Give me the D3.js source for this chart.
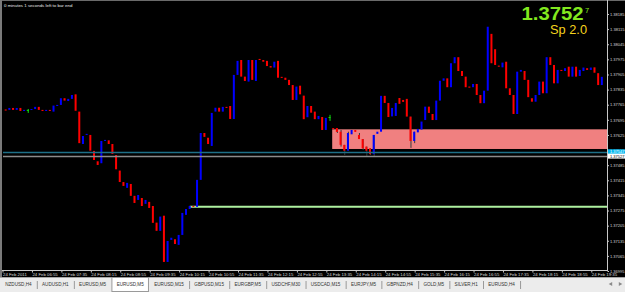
<!DOCTYPE html>
<html>
<head>
<meta charset="utf-8">
<script src="https://cdn.jsdelivr.net/npm/d3@7"></script>
<style>
  html, body { margin: 0; padding: 0; background: #000; }
  svg { display: block; font-family: "Liberation Sans", Arial, sans-serif; }
</style>
</head>
<body>
<svg id="chart" width="625" height="292"></svg>
<script>
// EURUSD M5, 24 Feb 2011
const opens = [
  1.37731,1.37743,1.37741,1.37750,1.37741,1.37750,1.37736,1.37741,1.37741,1.37745,
  1.37755,1.37741,1.37736,1.37741,1.37733,1.37759,1.37764,1.37795,1.37782,1.37792,
  1.37813,1.37733,1.37583,1.37625,1.37625,1.37551,1.37503,1.37494,1.37597,1.37600,
  1.37583,1.37532,1.37460,1.37407,1.37380,1.37398,1.37343,1.37324,1.37333,1.37306,
  1.37315,1.37296,1.37219,1.37181,1.37251,1.37037,1.37139,1.37142,1.37116,1.37162,
  1.37255,1.37282,1.37296,1.37292,1.37417,1.37634,1.37612,1.37574,1.37733,1.37751,
  1.37733,1.37755,1.37759,1.37699,1.37903,1.37972,1.37895,1.37872,1.37972,1.37875,
  1.37977,1.37972,1.37968,1.37944,1.37937,1.37968,1.37894,1.37890,1.37880,1.37856,
  1.37787,1.37853,1.37807,1.37707,1.37759,1.37733,1.37698,1.37708,1.37648,1.37708,
  1.37657,1.37657,1.37640,1.37579,1.37552,1.37628,1.37648,1.37625,1.37606,1.37571,
  1.37563,1.37536,1.37630,1.37640,1.37806,1.37773,1.37711,1.37713,1.37796,1.37787,
  1.37792,1.37710,1.37597,1.37637,1.37650,1.37694,1.37756,1.37722,1.37694,1.37784,
  1.37876,1.37887,1.37846,1.37957,1.37985,1.37921,1.37895,1.37849,1.37846,1.37861,
  1.37810,1.37772,1.37830,1.38093,1.38022,1.37946,1.37938,1.37964,1.37841,1.37810,
  1.37722,1.37918,1.37921,1.37880,1.37795,1.37779,1.37810,1.37872,1.37818,1.37985,
  1.37949,1.37864,1.37926,1.37921,1.37941,1.37895,1.37941,1.37898,1.37921,1.37934,
  1.37926,1.37938,1.37911,1.37856
];
const closes = [
  1.37745,1.37738,1.37750,1.37741,1.37750,1.37736,1.37741,1.37741,1.37745,1.37755,
  1.37741,1.37736,1.37741,1.37736,1.37761,1.37764,1.37795,1.37784,1.37792,1.37810,
  1.37737,1.37587,1.37620,1.37630,1.37552,1.37509,1.37486,1.37597,1.37602,1.37583,
  1.37537,1.37466,1.37407,1.37389,1.37403,1.37343,1.37310,1.37347,1.37296,1.37324,
  1.37287,1.37218,1.37181,1.37247,1.37037,1.37134,1.37149,1.37120,1.37162,1.37264,
  1.37282,1.37296,1.37292,1.37417,1.37634,1.37616,1.37583,1.37727,1.37751,1.37733,
  1.37755,1.37750,1.37699,1.37903,1.37968,1.37895,1.37875,1.37972,1.37880,1.37972,
  1.37972,1.37964,1.37944,1.37937,1.37964,1.37890,1.37889,1.37880,1.37856,1.37787,
  1.37849,1.37813,1.37698,1.37759,1.37728,1.37698,1.37713,1.37648,1.37704,1.37708,
  1.37653,1.37639,1.37579,1.37552,1.37634,1.37648,1.37639,1.37606,1.37563,1.37552,
  1.37536,1.37625,1.37640,1.37806,1.37773,1.37708,1.37750,1.37773,1.37769,1.37778,
  1.37710,1.37597,1.37640,1.37653,1.37687,1.37756,1.37727,1.37694,1.37784,1.37876,
  1.37887,1.37846,1.37957,1.37985,1.37921,1.37898,1.37846,1.37844,1.37861,1.37810,
  1.37772,1.37830,1.38126,1.37957,1.37949,1.37941,1.37960,1.37841,1.37810,1.37722,
  1.37918,1.37926,1.37880,1.37800,1.37779,1.37810,1.37872,1.37818,1.37985,1.37949,
  1.37864,1.37926,1.37921,1.37934,1.37895,1.37941,1.37895,1.37926,1.37937,1.37926,
  1.37937,1.37913,1.37856,1.37894
];
// wicks that can be seen: [bar, high, low]
const wicks = [
  [7, 1.37745, 1.37727], [89, 1.37718, 1.37690], [91, 1.37657, 1.37634],
  [92, 1.37648, 1.37571], [93, 1.37579, 1.37532], [94, 1.37640, 1.37552],
  [97, 1.37634, 1.37606], [98, 1.37606, 1.37555], [99, 1.37571, 1.37524],
  [100, 1.37563, 1.37532], [101, 1.37625, 1.37523], [111, 1.37710, 1.37565],
  [112, 1.37640, 1.37587]
];

const priceTicks = [1.38185,1.38115,1.38045,1.37975,1.37905,1.37835,1.37765,1.37695,1.37625,
  1.37555,1.37485,1.37415,1.37345,1.37275,1.37205,1.37135,1.37065,1.36995];
const timeLabels = ["24 Feb 2011","24 Feb 06:55","24 Feb 07:35","24 Feb 08:15","24 Feb 08:55",
  "24 Feb 09:35","24 Feb 10:15","24 Feb 10:55","24 Feb 11:35","24 Feb 12:15","24 Feb 12:55",
  "24 Feb 13:35","24 Feb 14:15","24 Feb 14:55","24 Feb 15:35","24 Feb 16:15","24 Feb 16:55",
  "24 Feb 17:35","24 Feb 18:15","24 Feb 18:55","24 Feb 19:35"];
const barsPerLabel = 8;

const bidPrice = 1.37527;
const askPrice = 1.37547;
const zoneStart = 90, zoneTop = 1.37651, zoneBottom = 1.37560;
const levelStart = 51, levelPrice = 1.37293;

const tabs = ["NZDUSD,H4","AUDUSD,H1","EURUSD,M5","EURUSD,M5","EURUSD,M15","GBPUSD,M15",
  "EURGBP,M5","USDCHF,M30","USDCAD,M15","EURJPY,M5","GBPNZD,H4","GOLD,M5","SILVER,H1","EURUSD,H4"];
const activeTab = 3;

const svg = d3.select("#chart");
const plotRight = 607, plotBottom = 270;

svg.append("rect").attr("width", 625).attr("height", 292).attr("fill", "#000");

const x = d3.scaleLinear().domain([0, opens.length - 1]).range([2, 2 + 3.68 * (opens.length - 1)]);
const y = d3.scaleLinear().domain([d3.min(priceTicks), d3.max(priceTicks)]).range([271, 14]);

svg.append("clipPath").attr("id", "plot")
  .append("rect").attr("x", 3).attr("y", 2).attr("width", plotRight - 3).attr("height", plotBottom - 2);
const plot = svg.append("g").attr("clip-path", "url(#plot)");

// zone rectangle (background object)
plot.append("rect")
  .attr("x", x(zoneStart) - 1)
  .attr("y", y(zoneTop))
  .attr("width", plotRight - x(zoneStart) + 1)
  .attr("height", y(zoneBottom) - y(zoneTop))
  .attr("fill", "#f08080");

// level line
plot.append("line")
  .attr("x1", x(levelStart)).attr("x2", plotRight)
  .attr("y1", y(levelPrice)).attr("y2", y(levelPrice))
  .attr("stroke", "#aef0a0").attr("stroke-width", 2);

// candles
const bars = opens.map((o, i) => ({i, o, c: closes[i]}));
const colorOf = d => d.c > d.o ? "#0000ff" : d.c < d.o ? "#ff0000" : "#10e010";

plot.selectAll(".wick").data(wicks).enter().append("line")
  .attr("class", "wick")
  .attr("x1", d => x(d[0]) + 0.5).attr("x2", d => x(d[0]) + 0.5)
  .attr("y1", d => y(d[1])).attr("y2", d => y(d[2]))
  .attr("stroke", d => opens[d[0]] === closes[d[0]] ? "#10e010" : "#3a3a3a")
  .attr("stroke-width", 1);

plot.selectAll(".body").data(bars).enter().append("rect")
  .attr("class", "body")
  .attr("x", d => x(d.i) - 1)
  .attr("width", 2)
  .attr("y", d => y(Math.max(d.o, d.c)))
  .attr("height", d => Math.max(1, Math.abs(y(d.o) - y(d.c))))
  .attr("fill", colorOf);

// ask / bid lines
plot.append("line").attr("x1", 3).attr("x2", plotRight)
  .attr("y1", Math.round(y(askPrice)) + 0.5).attr("y2", Math.round(y(askPrice)) + 0.5)
  .attr("stroke", "#1e7088").attr("stroke-width", 1.3);
plot.append("line").attr("x1", 3).attr("x2", plotRight)
  .attr("y1", Math.round(y(bidPrice)) + 0.5).attr("y2", Math.round(y(bidPrice)) + 0.5)
  .attr("stroke", "#8c8c8c").attr("stroke-width", 1.3);

// frame
svg.append("line").attr("x1", 0).attr("x2", 625).attr("y1", 0.5).attr("y2", 0.5).attr("stroke", "#6a6a6a");
svg.append("rect").attr("x", 0).attr("y", 0).attr("width", 2).attr("height", 277).attr("fill", "#7a7a7a");
svg.append("line").attr("x1", plotRight + 0.5).attr("x2", plotRight + 0.5).attr("y1", 0).attr("y2", plotBottom + 1)
  .attr("stroke", "#c8c8c8");
svg.append("line").attr("x1", 2).attr("x2", plotRight + 1).attr("y1", plotBottom + 0.5).attr("y2", plotBottom + 0.5)
  .attr("stroke", "#c8c8c8");

// price axis
const yAxis = svg.append("g").attr("transform", `translate(${plotRight + 0.5},0)`)
  .call(d3.axisRight(y).tickValues(priceTicks).tickSize(1.5).tickSizeOuter(0).tickPadding(1)
    .tickFormat(d3.format(".5f")));
yAxis.select(".domain").remove();
yAxis.selectAll("line").attr("stroke", "#c8c8c8");
yAxis.selectAll("text").attr("fill", "#d8d8d8").attr("font-size", 4)
  .attr("textLength", 14.5).attr("lengthAdjust", "spacingAndGlyphs");

// ask / bid price labels
[[askPrice, "#00b8f0", "#ffffff"], [bidPrice, "#ffffff", "#000000"]].forEach(([p, bg, fg]) => {
  const g = svg.append("g").attr("transform", `translate(${plotRight + 1},${y(p)})`);
  g.append("rect").attr("x", 0).attr("y", -2.5).attr("width", 18).attr("height", 5).attr("fill", bg);
  g.append("text").attr("x", 2).attr("y", 1.5).attr("font-size", 4).attr("fill", fg)
    .attr("textLength", 14.5).attr("lengthAdjust", "spacingAndGlyphs")
    .text(d3.format(".5f")(p));
});

// time axis
const timeIdx = timeLabels.map((t, k) => k * barsPerLabel);
const xAxis = svg.append("g").attr("transform", `translate(0.5,${plotBottom + 0.5})`)
  .call(d3.axisBottom(x).tickValues(timeIdx).tickSize(2).tickSizeOuter(0).tickPadding(0)
    .tickFormat((d, k) => timeLabels[k]));
xAxis.select(".domain").remove();
xAxis.selectAll("line").attr("stroke", "#c8c8c8");
xAxis.selectAll("text").attr("fill", "#d8d8d8").attr("font-size", 4.3)
  .attr("text-anchor", "start").attr("dx", 0);

// texts
svg.append("text").attr("x", 4).attr("y", 7).attr("font-size", 4.4).attr("fill", "#e8e8e8")
  .text("0 minutes 1 seconds left to bar end");
svg.append("text").attr("x", 521.5).attr("y", 19.5).attr("font-size", 18).attr("font-weight", "bold")
  .attr("fill", "#82e81e").attr("textLength", 62).attr("lengthAdjust", "spacingAndGlyphs")
  .text("1.3752");
svg.append("text").attr("x", 585).attr("y", 12.8).attr("font-size", 7.5)
  .attr("fill", "#82e81e").text("7");
svg.append("text").attr("x", 550).attr("y", 33.5).attr("font-size", 13.5)
  .attr("fill", "#f5d31c").attr("textLength", 37).attr("lengthAdjust", "spacingAndGlyphs")
  .text("Sp 2.0");

// tab bar
const tabBar = svg.append("g");
tabBar.append("rect").attr("x", 0).attr("y", 277).attr("width", 625).attr("height", 15).attr("fill", "#ececec");
tabBar.append("line").attr("x1", 0).attr("x2", 625).attr("y1", 277.5).attr("y2", 277.5).attr("stroke", "#a8a8a8");
let cursor = 0;
tabs.forEach((name, k) => {
  const t = tabBar.append("text").attr("y", 285.6).attr("font-size", 4.6).attr("fill", "#333").text(name);
  const w = t.node().getComputedTextLength();
  const tabW = w + 10.5;
  t.attr("x", cursor + (tabW - w) / 2);
  if (k === activeTab) {
    tabBar.insert("rect", "text").attr("x", cursor + 0.5).attr("y", 277.5).attr("width", tabW - 1)
      .attr("height", 14).attr("fill", "#fff").attr("stroke", "#9a9a9a");
  } else if (k + 1 !== activeTab) {
    tabBar.append("line").attr("x1", cursor + tabW + 0.5).attr("x2", cursor + tabW + 0.5)
      .attr("y1", 281).attr("y2", 289).attr("stroke", "#9a9a9a");
  }
  cursor += tabW;
});
// scroll arrows
[[611, 90], [620, -90]].forEach(([cx, rot]) => {
  tabBar.append("path").attr("d", d3.symbol(d3.symbolTriangle, 7)())
    .attr("transform", `translate(${cx},284) rotate(${rot + 180})`)
    .attr("fill", "#8a8a8a");
});
</script>
</body>
</html>
